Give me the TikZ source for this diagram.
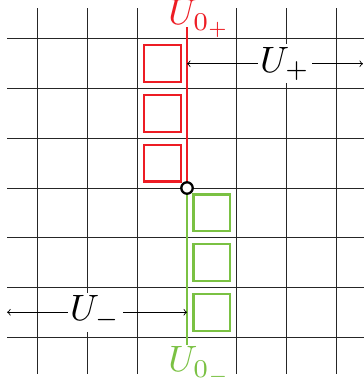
\documentclass[tikz,border=0pt]{standalone}
\definecolor{myred}{RGB}{237,28,36}
\definecolor{mygreen}{RGB}{122,193,67}
\begin{document}
\begin{tikzpicture}[x=1cm,y=1cm,
  gridline/.style={line width=0.5pt, black!85},
  sqbox/.style={draw, line width=1.2pt, minimum size=0.74cm, inner sep=0pt},
  redbox/.style={sqbox, draw=myred},
  greenbox/.style={sqbox, draw=mygreen},
  biglabel/.style={scale=2.1, inner sep=0.7pt},
  arrlabel/.style={biglabel, fill=white},
  arr/.style={<->, line width=0.5pt},
  wall/.style={line width=1.5pt}
]
\clip (-3.763,-4.004) rectangle (3.561,3.783);
% grid
\foreach \i in {-3,-2,-1,1,2,3} {
  \draw[gridline] (\i,3.62) -- (\i,-3.74);
}
\foreach \i in {-3,...,3} {
  \draw[gridline] (-3.62,\i) -- (3.8,\i);
}
% labels of the walls
\node[biglabel, anchor=base west, text=myred] (lp) at (-0.44,3.28) {$U_{0_+}$};
\node[biglabel, anchor=base west, text=mygreen] (lm) at (-0.44,-3.70) {$U_{0_-}$};
% squares
\node[redbox] (r1) at (-0.5,2.5) {};
\node[redbox] (r2) at (-0.5,1.5) {};
\node[redbox] (r3) at (-0.5,0.5) {};
\node[greenbox] (g1) at (0.5,-0.5) {};
\node[greenbox] (g2) at (0.5,-1.5) {};
\node[greenbox] (g3) at (0.5,-2.5) {};
% walls
\coordinate (c) at (0,0);
\coordinate (rtop) at (0,3.245);
\coordinate (gbot) at (0,-3.16);
\draw[wall, myred] (c) -- (rtop);
\draw[wall, mygreen] (c) -- (gbot);
% arrows
\coordinate (ps) at (0,2.5);
\coordinate (pe) at (3.54,2.5);
\coordinate (ms) at (-3.62,-2.5);
\coordinate (me) at (0,-2.5);
\draw[arr] (ps) -- (pe);
\draw[arr] (ms) -- (me);
\node[arrlabel] (up) at (1.97,2.5) {$U_+$};
\node[arrlabel] (um) at (-1.85,-2.5) {$U_-$};
% centre point
\node[circle, draw, fill=white, line width=1.3pt, minimum size=0.23cm, inner sep=0pt] (o) at (c) {};
\end{tikzpicture}
\end{document}
